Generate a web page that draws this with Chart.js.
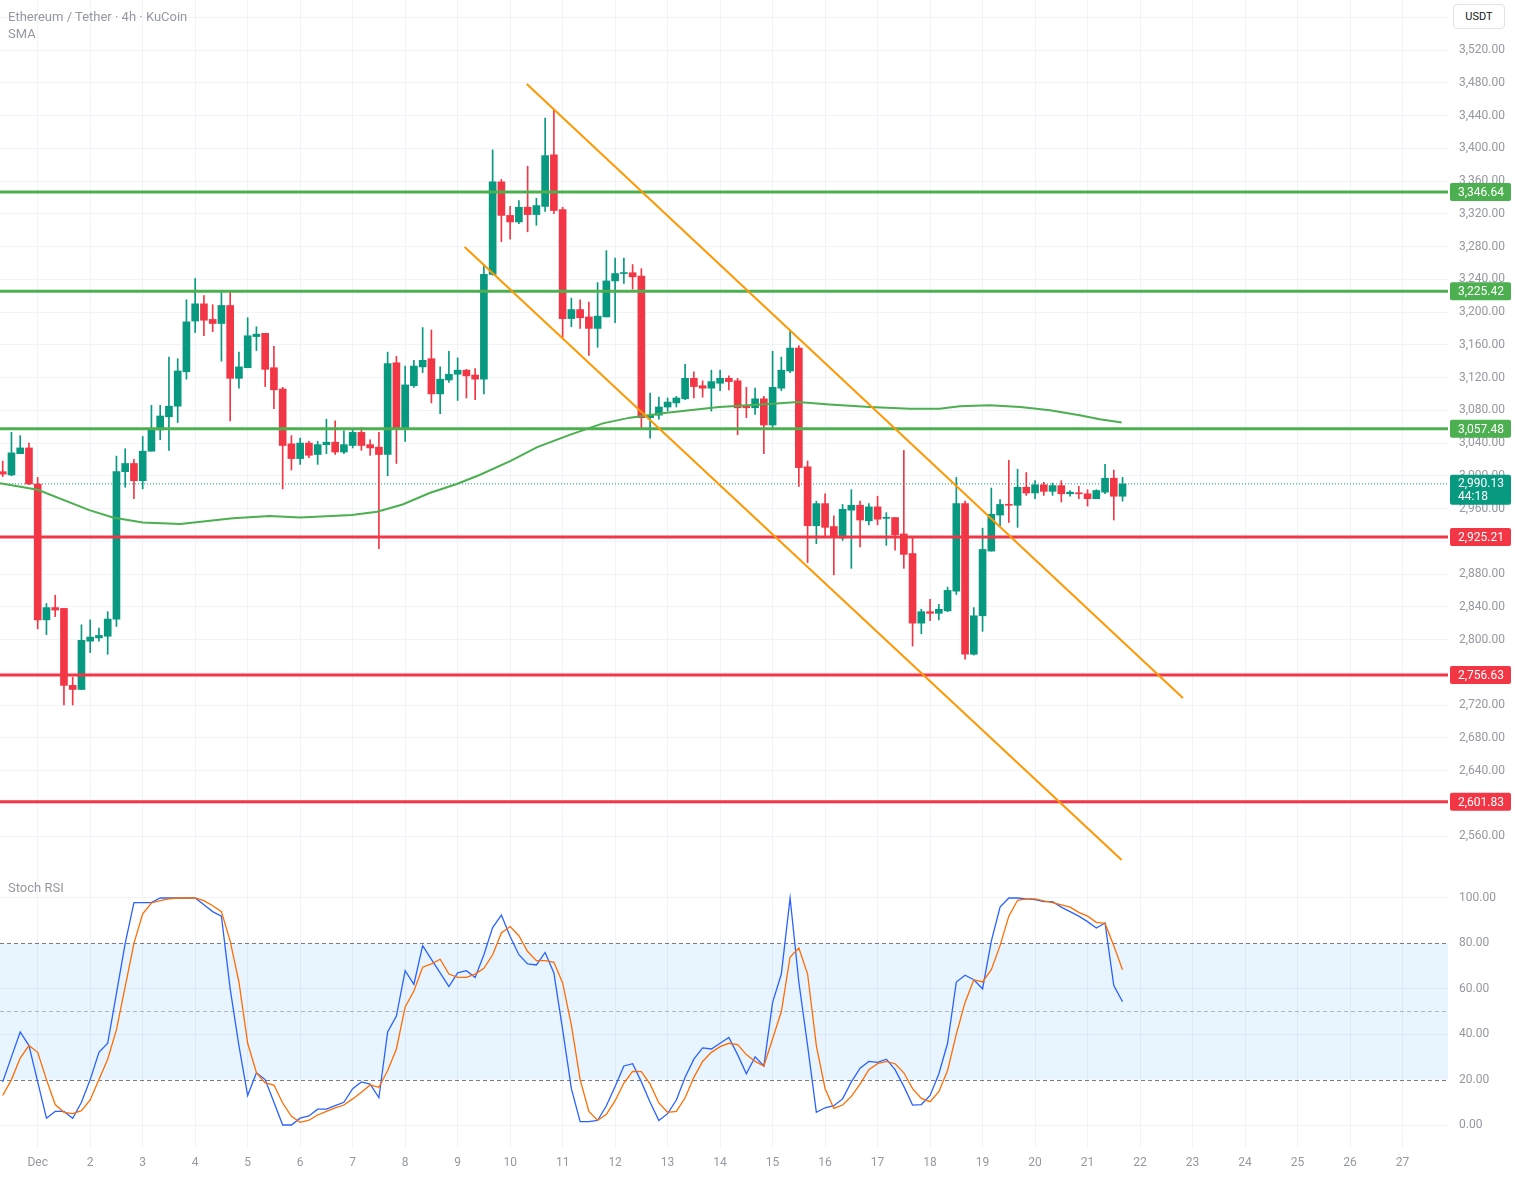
<!DOCTYPE html>
<html>
<head>
<meta charset="utf-8">
<title>Ethereum / Tether 4h</title>
<script src="https://cdn.jsdelivr.net/npm/chart.js@4.4.1/dist/chart.umd.min.js"></script>
<style>
  html, body { margin: 0; padding: 0; background: #fff; }
  body { width: 1516px; height: 1177px; position: relative; overflow: hidden; font-family: Roboto, "Noto Sans", sans-serif; }
  #priceChart { position: absolute; left: 0; top: 0; }
  #stochChart { position: absolute; left: 0; top: 875px; }
  .legend { position: absolute; left: 8px; color: #9598a1; font-size: 13px; line-height: 15px; white-space: nowrap; }
  #usdt { position: absolute; left: 1453px; top: 4px; width: 52px; height: 25px; box-sizing: border-box; border: 1px solid #e0e3eb;
          border-radius: 4px; background: #fff; color: #131722; font-size: 11px; line-height: 23px; text-align: center; }
</style>
</head>
<body>
<canvas id="priceChart" width="1516" height="875"></canvas>
<canvas id="stochChart" width="1516" height="302"></canvas>
<div class="legend" style="top:9px">Ethereum / Tether · 4h · KuCoin</div>
<div class="legend" style="top:26px">SMA</div>
<div class="legend" style="top:880px">Stoch RSI</div>
<div id="usdt">USDT</div>
<script>
// 4h candles, index 0 = Dec 1 00:00, first candle at index -4
const firstIdx = -4;
const opens = [
  3005, 3001, 3027, 3034,
  2990, 2824, 2839, 2838, 2744, 2739, 2798, 2802, 2804, 2825,
  3005, 3015, 2994, 3030, 3056, 3072, 3085, 3127, 3189, 3210,
  3191, 3186, 3208, 3119, 3132, 3170, 3174, 3132, 3106, 3039,
  3021, 3040, 3026, 3038, 3041, 3029, 3037, 3053, 3038, 3035,
  3026, 3138, 3058, 3110, 3133, 3143, 3100, 3117, 3124, 3129,
  3123, 3118, 3246, 3359, 3318, 3310, 3328, 3319, 3329, 3392,
  3325, 3192, 3203, 3194, 3180, 3194, 3238, 3247, 3248, 3244,
  3071, 3074, 3084, 3089, 3094, 3119, 3110, 3107, 3113, 3119,
  3116, 3085, 3083, 3094, 3062, 3107, 3128, 3156, 3011, 2939,
  2966, 2938, 2924, 2958, 2964, 2945, 2962, 2948, 2949, 2929,
  2905, 2820, 2834, 2832, 2835, 2859, 2966, 2782, 2829, 2908,
  2952, 2965, 2964, 2986, 2979, 2989, 2981, 2988, 2978, 2979,
  2978, 2972, 2980, 2997, 2975
];
const highs = [
  3018, 3053, 3049, 3040,
  2998, 2844, 2854, 2838, 2754, 2818, 2824, 2814, 2834, 3024,
  3033, 3020, 3048, 3086, 3086, 3145, 3143, 3215, 3241, 3220,
  3209, 3225, 3225, 3151, 3193, 3182, 3174, 3158, 3108, 3049,
  3046, 3042, 3042, 3069, 3067, 3055, 3057, 3059, 3044, 3053,
  3151, 3146, 3134, 3141, 3181, 3178, 3133, 3152, 3144, 3130,
  3131, 3258, 3398, 3362, 3329, 3336, 3378, 3339, 3437, 3448,
  3328, 3217, 3215, 3212, 3236, 3275, 3266, 3266, 3258, 3253,
  3101, 3096, 3095, 3097, 3136, 3127, 3116, 3129, 3129, 3122,
  3119, 3108, 3107, 3097, 3152, 3145, 3178, 3159, 3018, 2969,
  2978, 2951, 2965, 2983, 2969, 2966, 2975, 2955, 2949, 3031,
  2924, 2837, 2849, 2843, 2864, 2998, 2969, 2839, 2936, 2985,
  2971, 3019, 3008, 3004, 2994, 2992, 2991, 2994, 2982, 2987,
  2983, 2983, 3014, 3007, 2998
];
const lows = [
  2999, 3000, 3027, 2989,
  2813, 2806, 2828, 2720, 2720, 2739, 2784, 2798, 2782, 2816,
  2986, 2972, 2984, 3030, 3044, 3031, 3065, 3118, 3175, 3171,
  3176, 3140, 3067, 3107, 3132, 3153, 3109, 3082, 2984, 3007,
  3014, 3022, 3014, 3027, 3026, 3027, 3034, 3031, 3025, 2911,
  3000, 3015, 3042, 3108, 3126, 3089, 3076, 3114, 3092, 3095,
  3093, 3100, 3245, 3286, 3289, 3308, 3298, 3306, 3323, 3320,
  3169, 3182, 3180, 3147, 3157, 3194, 3187, 3235, 3228, 3058,
  3046, 3069, 3079, 3084, 3093, 3095, 3096, 3079, 3104, 3105,
  3050, 3071, 3075, 3027, 3058, 3104, 3126, 2987, 2894, 2917,
  2927, 2879, 2921, 2887, 2913, 2940, 2940, 2915, 2909, 2887,
  2792, 2807, 2823, 2824, 2834, 2855, 2776, 2781, 2810, 2908,
  2939, 2943, 2937, 2976, 2972, 2976, 2976, 2968, 2975, 2972,
  2963, 2972, 2978, 2946, 2969
];
const closes = [
  3002, 3028, 3034, 2990,
  2824, 2839, 2836, 2744, 2739, 2799, 2803, 2805, 2825, 3005,
  3015, 2994, 3030, 3057, 3073, 3085, 3128, 3188, 3210, 3190,
  3186, 3208, 3119, 3133, 3171, 3173, 3130, 3105, 3037, 3021,
  3040, 3025, 3038, 3041, 3029, 3038, 3053, 3037, 3034, 3026,
  3137, 3058, 3111, 3134, 3141, 3100, 3118, 3124, 3129, 3122,
  3118, 3246, 3359, 3318, 3310, 3328, 3319, 3330, 3391, 3324,
  3192, 3203, 3193, 3180, 3195, 3238, 3247, 3248, 3243, 3071,
  3074, 3084, 3090, 3095, 3119, 3109, 3107, 3115, 3119, 3115,
  3083, 3083, 3094, 3062, 3108, 3129, 3156, 3010, 2939, 2966,
  2937, 2925, 2959, 2964, 2946, 2962, 2947, 2949, 2928, 2904,
  2820, 2834, 2832, 2837, 2860, 2966, 2782, 2829, 2910, 2953,
  2965, 2964, 2986, 2979, 2989, 2981, 2988, 2978, 2980, 2978,
  2972, 2982, 2997, 2975, 2990.13
];

// Stoch RSI %K and %D, same candle indexes
const stochK = [
  19, 30, 41, 35,
  19, 3, 6, 6, 3, 10, 20, 32, 36, 58,
  80, 98, 98, 98, 100, 100, 100, 100, 100, 97,
  94, 92, 60, 35, 13, 23, 20, 10, 0, 0,
  3, 4, 7, 7, 8.5, 10, 16, 19, 18, 12,
  41, 48, 68, 62, 79, 73, 67, 61, 67, 68,
  65, 75, 87, 92.5, 83, 75, 71, 70.5, 76, 67,
  42, 16, 1.5, 1.5, 2, 8.5, 17, 26, 27, 19,
  10, 2, 5, 11, 21, 29, 34, 33.5, 36, 38.6,
  31, 22.6, 30, 26, 54, 66.5, 100, 63, 35, 5.6,
  7.6, 8.5, 11.5, 19, 25, 28, 27.6, 29, 24.4, 17,
  8.8, 9, 13, 22.5, 36, 63, 66, 64, 60, 81,
  96, 100, 100, 99.6, 99.3, 98.4, 98.4, 96, 94, 92,
  89.6, 86.8, 89, 61.4, 54.3
];
const stochD = [
  13, 20, 29.5, 35,
  32, 20, 9, 5.6, 5, 6.3, 11, 20, 29, 42,
  61, 80, 93, 97.8, 98.8, 99.6, 100, 100, 100, 98.8,
  96.6, 94, 81, 63, 36, 23, 18.5, 17.6, 9.7, 3.8,
  1.2, 2.1, 4.4, 6, 7.5, 8.8, 11.5, 14.4, 17.6, 16.6,
  24, 33.5, 52, 59, 69.5, 71, 73, 66.5, 65, 65,
  66.5, 69, 75, 84.6, 87.4, 83.4, 76.4, 72.4, 72.4, 71.7,
  62.6, 44, 20, 6, 2, 4.7, 10.7, 18.5, 23.6, 23.5,
  18, 9.7, 5.6, 6, 12, 21, 28, 32, 34.5, 36,
  35.4, 31, 28, 26, 38, 50, 74, 78, 66.5, 35,
  16, 7.3, 8.8, 12.6, 18, 24.4, 27, 28, 27, 23,
  16, 11.7, 10.3, 14.7, 24, 40, 54, 64, 63, 68.4,
  79, 92, 99, 99.6, 99.6, 98.7, 98, 97, 96, 93.7,
  92, 89.3, 88.8, 79, 68.4
];

// SMA read at sample candle positions
const smaIdx = [-4.3, 0, 5.9, 8.6, 12, 16.3, 22.3, 26.5, 30, 35.9, 38.8, 41.7, 44.8, 47.9, 50.5, 54, 57.1,
                60.8, 64.6, 67.7, 71.9, 77.9, 84, 86.9, 90.5, 95.1, 99.7, 103.1, 105.4, 108.8, 112.3, 115.7, 119.1, 121.4, 123.9];
const smaVals = [2991, 2983, 2958, 2949, 2943, 2941, 2948, 2951, 2949, 2952, 2956, 2965, 2979, 2990, 3001, 3018, 3035,
                 3050, 3064, 3071, 3077, 3084, 3088, 3090, 3087, 3084, 3082, 3082, 3085, 3086, 3084, 3080, 3074, 3069, 3065];

// horizontal levels
const levelValues = [3346.64, 3225.42, 3057.48, 2925.21, 2756.63, 2601.83];
const levelKinds = ['resistance', 'resistance', 'resistance', 'support', 'support', 'support'];

// descending channel, [candle index, price]
const channelUpper = [[55.9, 3478.5], [130.9, 2728.6]];
const channelLower = [[48.8, 3279.4], [123.9, 2530.7]];

const lastPrice = 2990.13;
const countdown = '44:18';

const dayIdx = [0, 6, 12, 18, 24, 30, 36, 42, 48, 54, 60, 66, 72, 78, 84, 90, 96, 102, 108, 114, 120, 126, 132, 138, 144, 150, 156];
const dayLabels = ['Dec', '2', '3', '4', '5', '6', '7', '8', '9', '10', '11', '12', '13', '14', '15', '16', '17', '18', '19', '20', '21', '22', '23', '24', '25', '26', '27'];
const stochTicks = [0, 20, 40, 60, 80, 100];
const stochBand = [20, 80];

const UP = '#089981', DOWN = '#f23645';
const GREEN_LEVEL = '#4caf50', RED_LEVEL = '#f23645';
const GRID = '#f0f3fa', TEXT = '#9598a1';
const FONT = 'Roboto, "Noto Sans", sans-serif';
const X_MIN = -4.31, X_MAX = 161.2;

function fmt(v) {
    return v.toLocaleString('en-US', { minimumFractionDigits: 2, maximumFractionDigits: 2 });
}

function xAxis(withLabels) {
    return {
        type: 'linear', min: X_MIN, max: X_MAX, offset: false,
        grid: { color: GRID, drawTicks: false, offset: false },
        border: { display: false },
        afterBuildTicks: s => { s.ticks = dayIdx.map(v => ({ value: v })); },
        ticks: {
            display: withLabels, autoSkip: false, maxRotation: 0, padding: 8, color: TEXT,
            font: { size: 12, family: FONT },
            callback: (v, i) => dayLabels[i]
        },
        afterFit: s => { s.height = withLabels ? 29 : 0; s.paddingLeft = 0; s.paddingRight = 0; }
    };
}

function lineDs(points, color, width, order, dash) {
    return {
        type: 'line', data: points, borderColor: color, borderWidth: width,
        borderDash: dash || [], pointRadius: 0, tension: 0, fill: false, order: order
    };
}

const candleColors = opens.map((o, k) => closes[k] >= o ? UP : DOWN);
const wickData = opens.map((o, k) => ({ x: firstIdx + k, y: [lows[k], highs[k]] }));
const bodyData = opens.map((o, k) => ({ x: firstIdx + k, y: [o, closes[k]] }));
const levelColors = levelKinds.map(k => k === 'resistance' ? GREEN_LEVEL : RED_LEVEL);

const datasets = [
    { type: 'bar', data: wickData, backgroundColor: candleColors, barThickness: 1, grouped: false, order: 6 },
    { type: 'bar', data: bodyData, backgroundColor: candleColors, barThickness: 7, grouped: false, minBarLength: 1, order: 5 },
    lineDs([{ x: X_MIN, y: lastPrice }, { x: X_MAX, y: lastPrice }], UP, 1, 7, [1, 2]),
    lineDs(smaIdx.map((x, k) => ({ x: x, y: smaVals[k] })), GREEN_LEVEL, 2, 3)
];
levelValues.forEach((v, k) => {
    datasets.push(lineDs([{ x: X_MIN, y: v }, { x: X_MAX, y: v }], levelColors[k], 3, 2));
});
[channelUpper, channelLower].forEach(c => {
    datasets.push(lineDs(c.map(p => ({ x: p[0], y: p[1] })), '#ff9800', 2, 1));
});

// price tags on the right axis
const priceTags = {
    id: 'priceTags',
    afterDraw(chart) {
        const { ctx, chartArea: a, scales: { y } } = chart;
        ctx.save();
        ctx.font = '12px ' + FONT;
        ctx.textAlign = 'left';
        ctx.textBaseline = 'middle';
        levelValues.forEach((v, k) => {
            const py = y.getPixelForValue(v);
            ctx.fillStyle = levelColors[k];
            ctx.beginPath();
            ctx.roundRect(a.right + 2, py - 9, 61, 18, 2);
            ctx.fill();
            ctx.fillStyle = '#fff';
            ctx.fillText(fmt(v), a.right + 10, py + 1);
        });
        const lp = y.getPixelForValue(lastPrice);
        ctx.fillStyle = UP;
        ctx.beginPath();
        ctx.roundRect(a.right + 2, lp - 9, 61, 30, 2);
        ctx.fill();
        ctx.fillStyle = '#fff';
        ctx.fillText(fmt(lastPrice), a.right + 10, lp + 0.5);
        ctx.fillText(countdown, a.right + 10, lp + 13.5);
        ctx.restore();
    }
};

const priceChart = new Chart(document.getElementById('priceChart').getContext('2d'), {
    type: 'bar',
    data: { datasets: datasets },
    options: {
        responsive: false,
        animation: false,
        layout: { padding: 0 },
        plugins: { legend: { display: false }, tooltip: { enabled: false } },
        scales: {
            x: xAxis(false),
            y: {
                position: 'right', min: 2512.4, max: 3581.1,
                grid: { color: GRID, drawTicks: false },
                border: { display: false },
                afterBuildTicks: s => { s.ticks = s.ticks.filter(t => t.value >= 2540); },
                ticks: {
                    stepSize: 40, includeBounds: false, padding: 11, color: TEXT,
                    font: { size: 12, family: FONT }, callback: v => fmt(v)
                },
                afterFit: s => { s.width = 68; s.paddingTop = 0; s.paddingBottom = 0; }
            }
        }
    },
    plugins: [priceTags]
});

// overbought / oversold band of the Stoch RSI pane
const bandPlugin = {
    id: 'band',
    beforeDatasetsDraw(chart) {
        const { ctx, chartArea: a, scales: { y } } = chart;
        const top = y.getPixelForValue(stochBand[1]);
        const bot = y.getPixelForValue(stochBand[0]);
        ctx.save();
        ctx.fillStyle = 'rgba(33, 150, 243, 0.1)';
        ctx.fillRect(a.left, top, a.right - a.left, bot - top);
        ctx.lineWidth = 1;
        ctx.setLineDash([4, 3]);
        [[stochBand[1], '#787b86'], [50, '#b2b5be'], [stochBand[0], '#787b86']].forEach(([v, c]) => {
            const py = Math.round(y.getPixelForValue(v)) + 0.5;
            ctx.strokeStyle = c;
            ctx.beginPath();
            ctx.moveTo(a.left, py);
            ctx.lineTo(a.right, py);
            ctx.stroke();
        });
        ctx.restore();
    }
};

const stochChart = new Chart(document.getElementById('stochChart').getContext('2d'), {
    type: 'line',
    data: {
        datasets: [
            lineDs(stochK.map((v, k) => ({ x: firstIdx + k, y: v })), '#2962ff', 1.3, 2),
            lineDs(stochD.map((v, k) => ({ x: firstIdx + k, y: v })), '#ff6d00', 1.3, 1)
        ]
    },
    options: {
        responsive: false,
        animation: false,
        layout: { padding: 0 },
        plugins: { legend: { display: false }, tooltip: { enabled: false } },
        scales: {
            x: xAxis(true),
            y: {
                position: 'right', min: -10.13, max: 110.13,
                grid: { color: c => (c.tick && stochBand.includes(c.tick.value)) ? 'rgba(0,0,0,0)' : GRID, drawTicks: false },
                border: { display: false },
                afterBuildTicks: s => { s.ticks = stochTicks.map(v => ({ value: v })); },
                ticks: {
                    padding: 11, color: TEXT,
                    font: { size: 12, family: FONT }, callback: v => fmt(v)
                },
                afterFit: s => { s.width = 68; s.paddingTop = 0; s.paddingBottom = 0; }
            }
        }
    },
    plugins: [bandPlugin]
});
</script>
</body>
</html>
